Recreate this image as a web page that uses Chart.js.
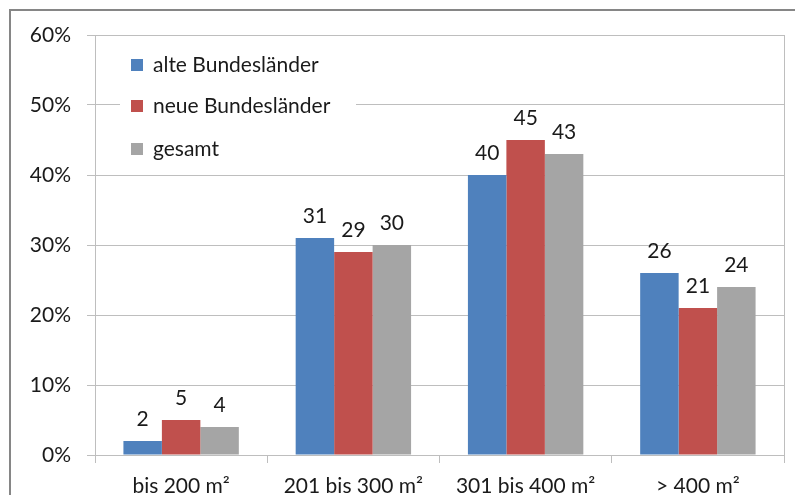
<!DOCTYPE html>
<html>
<head>
<meta charset="utf-8">
<script src="https://cdn.jsdelivr.net/npm/chart.js@4"></script>
<style>
  html, body { margin: 0; padding: 0; background: #fff; }
  #wrap { width: 795px; height: 495px; }
</style>
</head>
<body>
<div id="wrap"><canvas id="chart" width="795" height="495"></canvas></div>
<script>
const categories = ['bis 200 m²', '201 bis 300 m²', '301 bis 400 m²', '> 400 m²'];
const seriesNames = ['alte Bundesländer', 'neue Bundesländer', 'gesamt'];
const alteValues = [2, 31, 40, 26];
const neueValues = [5, 29, 45, 21];
const gesamtValues = [4, 30, 43, 24];
const seriesColors = ['#4F81BD', '#C0504D', '#A5A5A5'];

const FONT = 'Lato, "Open Sans", sans-serif';
const gridColor = '#BEBEBE';

// Rahmen um das ganze Diagramm + Rahmen um die Zeichenfläche
const framePlugin = {
  id: 'frame',
  afterDraw(chart) {
    const c = chart.ctx, a = chart.chartArea;
    c.save();
    c.strokeStyle = gridColor;
    c.lineWidth = 1;
    c.beginPath();
    c.moveTo(Math.round(a.right) + 0.5, a.top);
    c.lineTo(Math.round(a.right) + 0.5, a.bottom);
    c.stroke();
    c.strokeStyle = '#868686';
    c.lineWidth = 2;
    c.strokeRect(10, 10, 820, 520);
    c.restore();
  }
};

// Werte über den Balken
const valueLabels = {
  id: 'valueLabels',
  afterDatasetsDraw(chart) {
    const c = chart.ctx;
    c.save();
    c.font = '21px ' + FONT;
    c.fillStyle = '#1a1a1a';
    c.textAlign = 'center';
    c.textBaseline = 'middle';
    chart.data.datasets.forEach((ds, i) => {
      chart.getDatasetMeta(i).data.forEach((bar, j) => {
        c.fillText(String(ds.data[j]), bar.x, bar.y - 22);
      });
    });
    c.restore();
  }
};

// Legende innerhalb der Zeichenfläche
const innerLegend = {
  id: 'innerLegend',
  afterDatasetsDraw(chart) {
    const c = chart.ctx;
    c.save();
    c.fillStyle = '#fff';
    c.fillRect(120, 45, 236, 122);
    c.font = '21px ' + FONT;
    c.textBaseline = 'middle';
    c.textAlign = 'left';
    const rows = [65, 106, 149];
    chart.data.datasets.forEach((ds, i) => {
      c.fillStyle = ds.backgroundColor;
      c.fillRect(131, rows[i] - 6, 12, 12);
      c.fillStyle = '#1a1a1a';
      c.fillText(ds.label, 153, rows[i]);
    });
    c.restore();
  }
};

new Chart(document.getElementById('chart'), {
  type: 'bar',
  data: {
    labels: categories,
    datasets: [
      { label: seriesNames[0], data: alteValues, backgroundColor: seriesColors[0] },
      { label: seriesNames[1], data: neueValues, backgroundColor: seriesColors[1] },
      { label: seriesNames[2], data: gesamtValues, backgroundColor: seriesColors[2] }
    ]
  },
  options: {
    responsive: false,
    animation: false,
    devicePixelRatio: 1,
    layout: { padding: { left: 0, top: 35, right: 11, bottom: 0 } },
    datasets: { bar: { barPercentage: 1, categoryPercentage: 0.67 } },
    plugins: { legend: { display: false }, tooltip: { enabled: false } },
    scales: {
      x: {
        grid: { display: true, offset: true, drawOnChartArea: false, color: gridColor, tickLength: 8 },
        border: { color: gridColor },
        ticks: { color: '#1a1a1a', font: { family: FONT, size: 21 }, padding: 11, maxRotation: 0 },
        afterFit(s) { s.height = 40; }
      },
      y: {
        min: 0, max: 60,
        grid: { color: gridColor, tickLength: 8 },
        border: { color: gridColor },
        ticks: {
          stepSize: 10,
          color: '#1a1a1a',
          font: { family: FONT, size: 21 },
          padding: 16,
          callback: v => v + '%'
        },
        afterFit(s) { s.width = 95; }
      }
    }
  },
  plugins: [framePlugin, valueLabels, innerLegend]
});
</script>
</body>
</html>
